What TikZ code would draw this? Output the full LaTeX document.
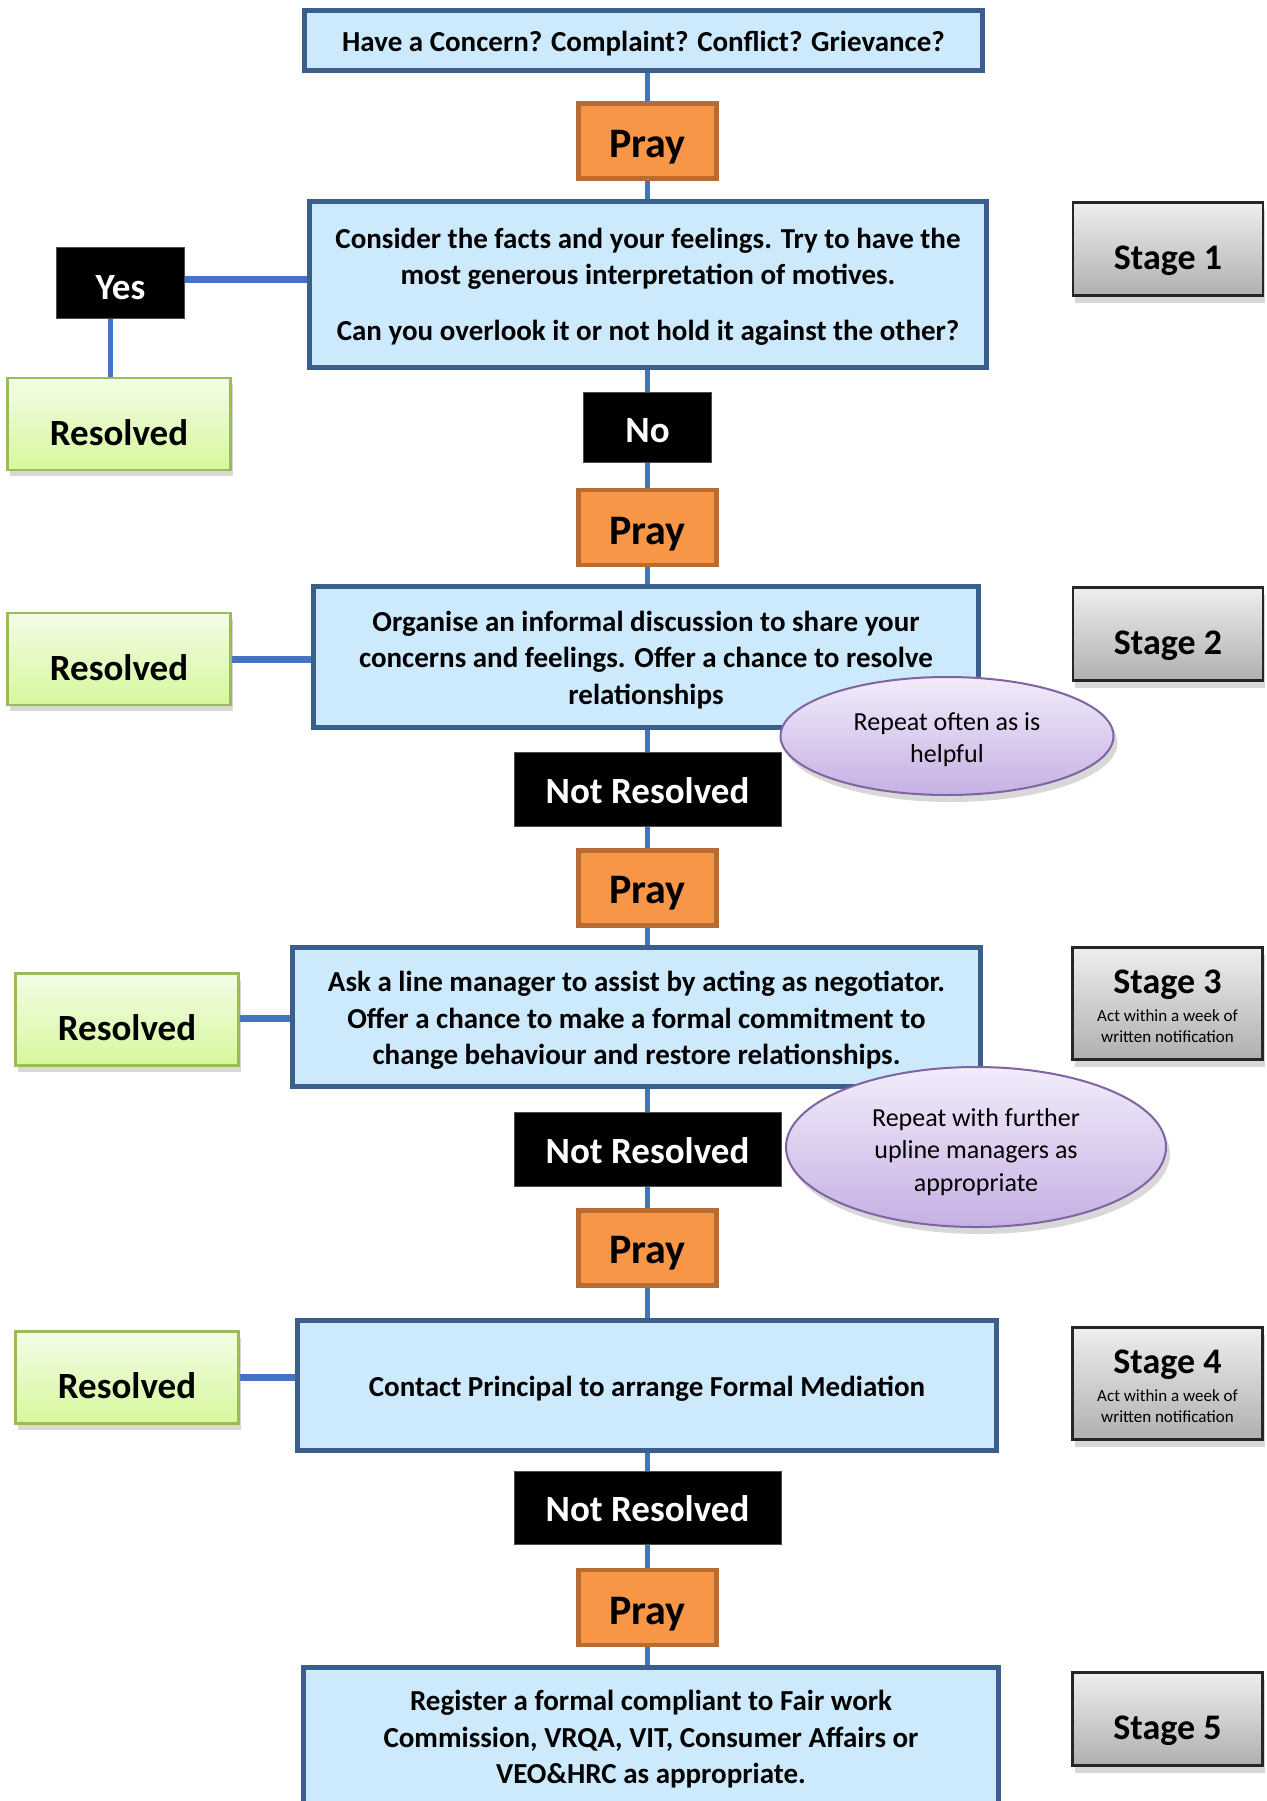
\documentclass[tikz,border=0pt]{standalone}
\usepackage{fontspec}
\setmainfont{Carlito}
\usetikzlibrary{shadows,backgrounds,shapes.geometric,calc}
\definecolor{boxfill}{RGB}{204,234,252}
\definecolor{boxline}{RGB}{58,95,139}
\definecolor{conncol}{RGB}{68,114,196}
\definecolor{prayfill}{RGB}{247,150,70}
\definecolor{prayline}{RGB}{182,108,50}
\definecolor{resline}{RGB}{155,187,89}
\definecolor{restop}{RGB}{243,252,230}
\definecolor{resbot}{RGB}{214,248,156}
\definecolor{stagetop}{RGB}{238,238,238}
\definecolor{stagebot}{RGB}{176,176,176}
\definecolor{elltop}{RGB}{242,236,250}
\definecolor{ellbot}{RGB}{198,176,228}
\definecolor{ellline}{RGB}{128,100,162}
\newcommand\lowertext[2]{\raisebox{-#1}[\height][\depth]{#2}}
\newcommand\lowerlines[2]{\raisebox{-#1}[\height][\depth]{\begin{tabular}{@{}c@{}}#2\end{tabular}}}
\begin{document}
\begin{tikzpicture}[x=1pt,y=-1pt,
  mainbox/.style={draw=boxline, fill=boxfill, line width=5pt,
    font=\fontsize{29}{36.5}\selectfont\bfseries, inner sep=0pt},
  praybox/.style={draw=prayline, fill=prayfill, line width=4.5pt,
    minimum width=138pt, minimum height=75pt, inner sep=0pt,
    font=\fontsize{42}{48}\selectfont\bfseries},
  blackbox/.style={fill=black, draw=black!70, line width=1pt, text=white, inner sep=0pt,
    font=\fontsize{37}{42}\selectfont\bfseries},
  resbox/.style={draw=resline, line width=2.5pt, top color=restop, bottom color=resbot,
    minimum width=223pt, minimum height=92pt, inner sep=0pt,
    font=\fontsize{37}{42}\selectfont\bfseries,
    drop shadow={shadow xshift=2pt, shadow yshift=-6pt, opacity=0.3}},
  stagebox/.style={draw=black!85, line width=2.5pt, top color=stagetop, bottom color=stagebot,
    minimum width=190pt, inner sep=0pt,
    font=\fontsize{17}{21}\selectfont,
    drop shadow={shadow xshift=2pt, shadow yshift=-7pt, opacity=0.3}},
  ellbox/.style={ellipse, draw=ellline, line width=2pt, top color=elltop, bottom color=ellbot,
    inner sep=0pt, font=\fontsize{26}{32.5}\selectfont,
    drop shadow={shadow xshift=4pt, shadow yshift=-7pt, opacity=0.3}},
  vconn/.style={draw=conncol, line width=5.5pt},
  hconn/.style={draw=conncol, line width=7pt}]
\useasboundingbox (0,0) rectangle (1266,1801);
\clip (0,0) rectangle (1266,1801);

% main flow
\node[mainbox, minimum width=678pt, minimum height=60pt] (top) at (643.5,40.5)
  {\lowertext{3.5pt}{Have a Concern? Complaint? Conflict? Grievance?}};
\node[praybox] (pray1) at (647.5,141) {\lowertext{6.5pt}{Pray}};
\node[mainbox, minimum width=677pt, minimum height=166pt] (s1box) at (648,284.5)
  {\lowerlines{2.5pt}{Consider the facts and your feelings. Try to have the\\most generous interpretation of motives.\\[19.5pt]Can you overlook it or not hold it against the other?}};
\node[blackbox, minimum width=128pt, minimum height=70pt] (no) at (647.5,427.5) {\lowertext{3.5pt}{No}};
\node[praybox] (pray2) at (647.5,527.5) {\lowertext{6.5pt}{Pray}};
\node[mainbox, minimum width=665pt, minimum height=141pt] (s2box) at (646,657)
  {\lowerlines{3.5pt}{Organise an informal discussion to share your\\concerns and feelings. Offer a chance to resolve\\relationships}};
\node[blackbox, minimum width=267pt, minimum height=74pt] (nr1) at (647.5,789.5) {\lowertext{1pt}{Not Resolved}};
\node[praybox] (pray3) at (647.5,888) {\lowertext{5.5pt}{Pray}};
\node[mainbox, minimum width=688pt, minimum height=139pt] (s3box) at (636.5,1017)
  {\lowerlines{4pt}{Ask a line manager to assist by acting as negotiator.\\Offer a chance to make a formal commitment to\\change behaviour and restore relationships.}};
\node[blackbox, minimum width=267pt, minimum height=74pt] (nr2) at (647.5,1149.5) {\lowertext{1pt}{Not Resolved}};
\node[praybox] (pray4) at (647.5,1248) {\lowertext{5.5pt}{Pray}};
\node[mainbox, minimum width=699pt, minimum height=130pt] (s4box) at (647,1385.5)
  {\lowertext{3.5pt}{Contact Principal to arrange Formal Mediation}};
\node[blackbox, minimum width=267pt, minimum height=73pt] (nr3) at (647.5,1508) {\lowertext{1pt}{Not Resolved}};
\node[praybox] (pray5) at (647.5,1607.5) {\lowertext{6.5pt}{Pray}};
\node[mainbox, minimum width=695pt, minimum height=141pt] (s5box) at (651,1738)
  {\lowerlines{2pt}{Register a formal compliant to Fair work\\Commission, VRQA, VIT, Consumer Affairs or\\VEO\&HRC as appropriate.}};

% side: yes / resolved
\node[blackbox, minimum width=128pt, minimum height=71pt] (yes) at (120.5,283) {\lowertext{4.5pt}{Yes}};
\node[resbox] (res1) at (119,424) {\lowertext{8.5pt}{Resolved}};
\node[resbox] (res2) at (119,659) {\lowertext{8.5pt}{Resolved}};
\node[resbox] (res3) at (127,1019.5) {\lowertext{8.5pt}{Resolved}};
\node[resbox] (res4) at (127,1377.5) {\lowertext{8.5pt}{Resolved}};

% stages
\node[stagebox, minimum height=93pt] (stage1) at (1168,249)
  {\fontsize{36}{40}\selectfont\bfseries\lowertext{11.5pt}{Stage 1}};
\node[stagebox, minimum height=93pt] (stage2) at (1168,634)
  {\fontsize{36}{40}\selectfont\bfseries\lowertext{11.5pt}{Stage 2}};
\node[stagebox, minimum height=112pt] (stage3) at (1167.5,1003.5)
  {\lowerlines{5.75pt}{{\fontsize{36}{40}\selectfont\bfseries Stage 3}\\[7pt]Act within a week of\\written notification}};
\node[stagebox, minimum height=112pt] (stage4) at (1167.5,1383.5)
  {\lowerlines{5.75pt}{{\fontsize{36}{40}\selectfont\bfseries Stage 4}\\[7pt]Act within a week of\\written notification}};
\node[stagebox, minimum height=93pt] (stage5) at (1167.5,1719)
  {\fontsize{36}{40}\selectfont\bfseries\lowertext{11.5pt}{Stage 5}};

% notes
\node[ellbox, minimum width=333pt, minimum height=118pt] (ell1) at (947,736)
  {\lowerlines{4pt}{Repeat often as is\\helpful}};
\node[ellbox, minimum width=380pt, minimum height=160pt] (ell2) at (976,1147)
  {\lowerlines{5pt}{Repeat with further\\upline managers as\\appropriate}};

% connectors
\begin{scope}[on background layer]
  \fill[white] (0,0) rectangle (1266,1801);
  \draw[vconn] (pray1 |- top) -- (pray1) -- (pray1 |- s1box) -- (no) -- (pray2)
    -- (pray2 |- s2box) -- (nr1) -- (pray3) -- (pray3 |- s3box) -- (nr2) -- (pray4)
    -- (pray4 |- s4box) -- (nr3) -- (pray5) -- (pray5 |- s5box);
  \draw[hconn] ([yshift=4pt]yes.center) -- ([yshift=4pt]yes.center -| s1box.west);
  \draw[vconn] ([xshift=-10pt]yes.center) -- ([xshift=-10pt]yes.center |- res1.center);
  \draw[hconn] (res2.center) -- (res2.center -| s2box.west);
  \draw[hconn] ([yshift=1.5pt]res3.center) -- ([yshift=1.5pt]res3.center -| s3box.west);
  \draw[hconn] (res4.center) -- (res4.center -| s4box.west);
\end{scope}
\end{tikzpicture}
\end{document}
